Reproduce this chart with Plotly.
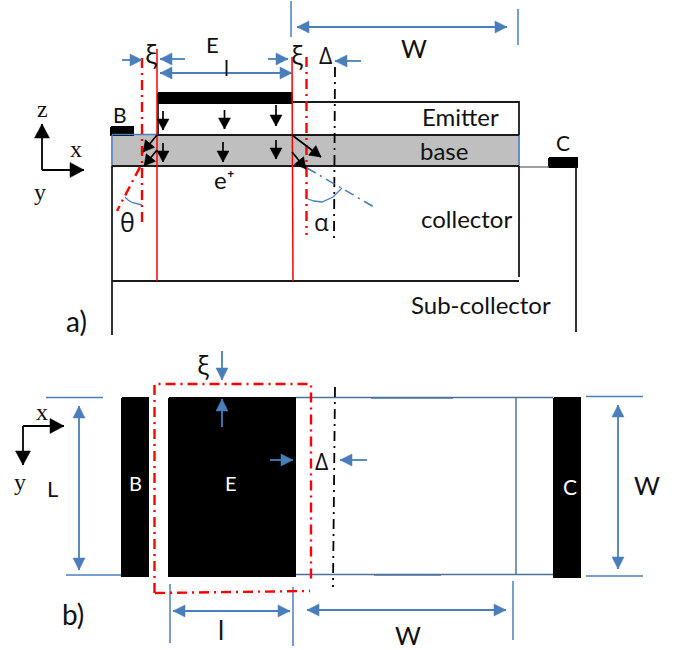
import plotly.graph_objects as go

BLUE = "#4a7ebb"
DARKBLUE = "#4f7199"
RED = "#ff0000"
BLACK = "#000000"
DARK = "#1a1a1a"
GREY = "#bfbfbf"
SANS = "Lato"
GREEK = "Open Sans"
SERIF = "Liberation Serif"

# --- solid polygons (x list, y list) in picture units
grey_base = ([112, 519, 519, 112], [135, 135, 166, 166])
black_bars_a = [
    ([158, 292, 292, 158], [93, 93, 103, 103]),      # emitter contact
    ([111, 133, 133, 111], [127, 127, 135, 135]),    # base contact
    ([549, 577, 577, 549], [158, 158, 167, 167]),    # collector contact
]
black_bars_b = [
    ([122, 148, 148, 122], [398, 398, 576, 576]),    # B
    ([169, 295, 295, 169], [398, 398, 576, 576]),    # E
    ([554, 580, 580, 554], [398, 398, 577, 577]),    # C
]

# --- plain lines
dark_lines = [
    ([292, 519, 519], [102, 102, 135]),
    ([158, 158], [103, 135]),
    ([157, 519], [135, 135]),
    ([112, 519], [166, 166]),
    ([112, 112], [166, 335]),
    ([112, 519], [281, 281]),
    ([519, 519], [166, 277]),
    ([576, 576], [167, 332]),
]
grey_lines = [([519, 549], [167, 167])]
blue_thin_lines = [
    ([291, 291], [1, 37]),
    ([518, 518], [9, 45]),
    ([112, 112], [135, 166]),
    ([112, 157], [134.5, 134.5]),
    ([519, 519], [135, 166]),
    ([46, 103], [397.5, 397.5]),
    ([66, 121], [575, 575]),
    ([586, 643], [396.5, 396.5]),
    ([586, 643], [576, 576]),
    ([170, 170], [584, 643]),
    ([293, 293], [587, 646]),
    ([513, 513], [581, 640]),
    ([371, 453], [398, 398]),
    ([374, 441], [575, 575]),
]
blue_dark_lines = [
    ([296, 553], [397.5, 397.5]),
    ([296, 553], [574.5, 574.5]),
    ([516, 516], [397.5, 574.5]),
]
red_solid_lines = [
    ([157, 157], [49, 281]),
    ([292, 293], [57, 281]),
]
red_dashdot_lines = [
    ([142, 142], [58, 225]),
    ([306.5, 306.5], [57, 235]),
    ([140, 117], [167, 211]),
    ([154.5, 154.5, 311, 311], [593, 384, 384, 582]),
    ([155, 310], [593, 591]),
]
black_dashdot_lines = [
    ([335, 334], [67, 240]),
    ([335, 333], [387, 587]),
]
blue_dashdot_lines = [([307, 374], [168, 207])]
arcs = [
    ([125, 128, 132, 137, 142], [197, 200, 202.5, 204, 205]),
    ([308, 314, 322, 333, 342], [199, 201, 202, 197, 188]),
]

# --- arrows: x0, y0, x1 (tip), y1 (tip)
blue_arrows = [
    (122, 60, 142, 60), (185, 59, 160, 59), (268, 59, 288, 59), (361, 61, 335, 61),
    (222, 351, 222, 380), (222, 427, 222, 399), (270, 460, 293, 460), (367, 460, 340, 460),
]
blue_double_arrows = [
    (297, 27, 507, 27), (160, 73, 292, 73),
    (79, 406, 79, 570), (618, 405, 618, 569),
    (173, 611, 290, 611), (307, 610, 506, 610),
]
black_arrows = [
    (163, 111, 163, 130), (224.5, 110, 224.5, 129), (276, 105, 276, 126),
    (163, 143, 163, 162), (223, 142, 223, 162), (276, 140, 276, 159),
    (157, 135, 143, 152), (157, 150, 144, 166),
    (292, 135, 321, 157), (292, 152, 306, 169),
]
axis_arrows = [
    (42, 170, 42, 124), (42, 170, 84, 170),
    (23, 426, 64, 426), (23, 426, 23, 465),
]

# --- labels: text, x, y, size
sans_labels = [
    ("E", 212, 44, 22), ("l", 226, 67, 21), ("W", 414, 48, 25),
    ("B", 120, 114, 21), ("C", 563, 142, 21),
    ("Emitter", 460, 116, 24), ("base", 444, 150, 24), ("collector", 466, 218, 24),
    ("Sub-collector", 481, 304, 24), ("e⁺", 224, 179, 24),
    ("a)", 76, 321, 28), ("b)", 73, 614, 28),
    ("L", 52, 488, 22), ("W", 647, 485, 25), ("l", 221, 630, 26), ("W", 408, 635, 25),
]
white_labels = [("B", 135, 483, 20), ("E", 231, 483, 20), ("C", 570, 486, 21)]
greek_labels = [
    ("ξ", 151, 54, 26), ("ξ", 297, 55, 26), ("Δ", 325, 55, 23),
    ("θ", 127, 222, 25), ("α", 321, 221, 24),
    ("ξ", 203, 365, 26), ("Δ", 321, 461, 23),
]
serif_labels = [
    ("z", 42, 109, 24), ("x", 76, 149, 24), ("y", 40, 192, 24),
    ("x", 42, 412, 24), ("y", 20, 482, 24),
]

fig = go.Figure()


def poly(xs, ys, color):
    fig.add_trace(go.Scatter(x=xs + xs[:1], y=ys + ys[:1], mode="lines", fill="toself",
                             fillcolor=color, line=dict(color=color, width=2)))


def line(xs, ys, color, width, dash="solid"):
    fig.add_trace(go.Scatter(x=xs, y=ys, mode="lines", line=dict(color=color, width=width, dash=dash)))


def head(x0, y0, x1, y1, color, length, half):
    dx, dy = x1 - x0, y1 - y0
    n = (dx * dx + dy * dy) ** 0.5
    ux, uy = dx / n, dy / n
    bx, by = x1 - ux * length, y1 - uy * length
    xs = [x1, bx - uy * half, bx + uy * half, x1]
    ys = [y1, by + ux * half, by - ux * half, y1]
    fig.add_trace(go.Scatter(x=xs, y=ys, mode="lines", fill="toself", fillcolor=color,
                             line=dict(color=color, width=0.5)))


def arrow(a, color, width, length, half, double=False):
    x0, y0, x1, y1 = a
    line([x0, x1], [y0, y1], color, width)
    head(x0, y0, x1, y1, color, length, half)
    if double:
        head(x1, y1, x0, y0, color, length, half)


poly(*grey_base, GREY)
for b in black_bars_a + black_bars_b:
    poly(*b, BLACK)
for l in blue_thin_lines:
    line(*l, BLUE, 1.5)
for l in blue_dark_lines:
    line(*l, DARKBLUE, 1.5)
for l in grey_lines:
    line(*l, "#808080", 1.5)
for l in dark_lines:
    line(*l, DARK, 1.8)
for l in red_solid_lines:
    line(*l, RED, 1.5)
for l in red_dashdot_lines:
    line(*l, RED, 2.4, "10px,5px,2px,5px")
for l in black_dashdot_lines:
    line(*l, BLACK, 1.8, "10px,5px,2px,5px")
for l in blue_dashdot_lines:
    line(*l, BLUE, 1.6, "10px,5px,2px,5px")
for l in arcs:
    line(*l, BLUE, 1.3)
for a in blue_arrows:
    arrow(a, BLUE, 1.8, 12, 6)
for a in blue_double_arrows:
    arrow(a, BLUE, 1.8, 12, 6, True)
for a in black_arrows:
    arrow(a, BLACK, 1.7, 11, 6)
for a in axis_arrows:
    arrow(a, BLACK, 1.8, 14, 7.5)


def labels(rows, family, color):
    for text, x, y, size in rows:
        fig.add_annotation(x=x, y=y, text=text, showarrow=False, xanchor="center", yanchor="middle",
                           font=dict(family=family, size=size, color=color))


labels(sans_labels, SANS, "#111111")
labels(white_labels, SANS, "#ffffff")
labels(greek_labels, GREEK, "#111111")
labels(serif_labels, SERIF, "#111111")

fig.update_layout(
    width=683, height=650, margin=dict(l=0, r=0, t=0, b=0), showlegend=False,
    paper_bgcolor="white", plot_bgcolor="white", hovermode=False,
    xaxis=dict(range=[0, 683], visible=False, fixedrange=True),
    yaxis=dict(range=[650, 0], visible=False, fixedrange=True),
)
fig.write_html("out.html", post_script="document.body.style.margin='0';window.dispatchEvent(new Event('resize'));",
               config=dict(displayModeBar=False))
